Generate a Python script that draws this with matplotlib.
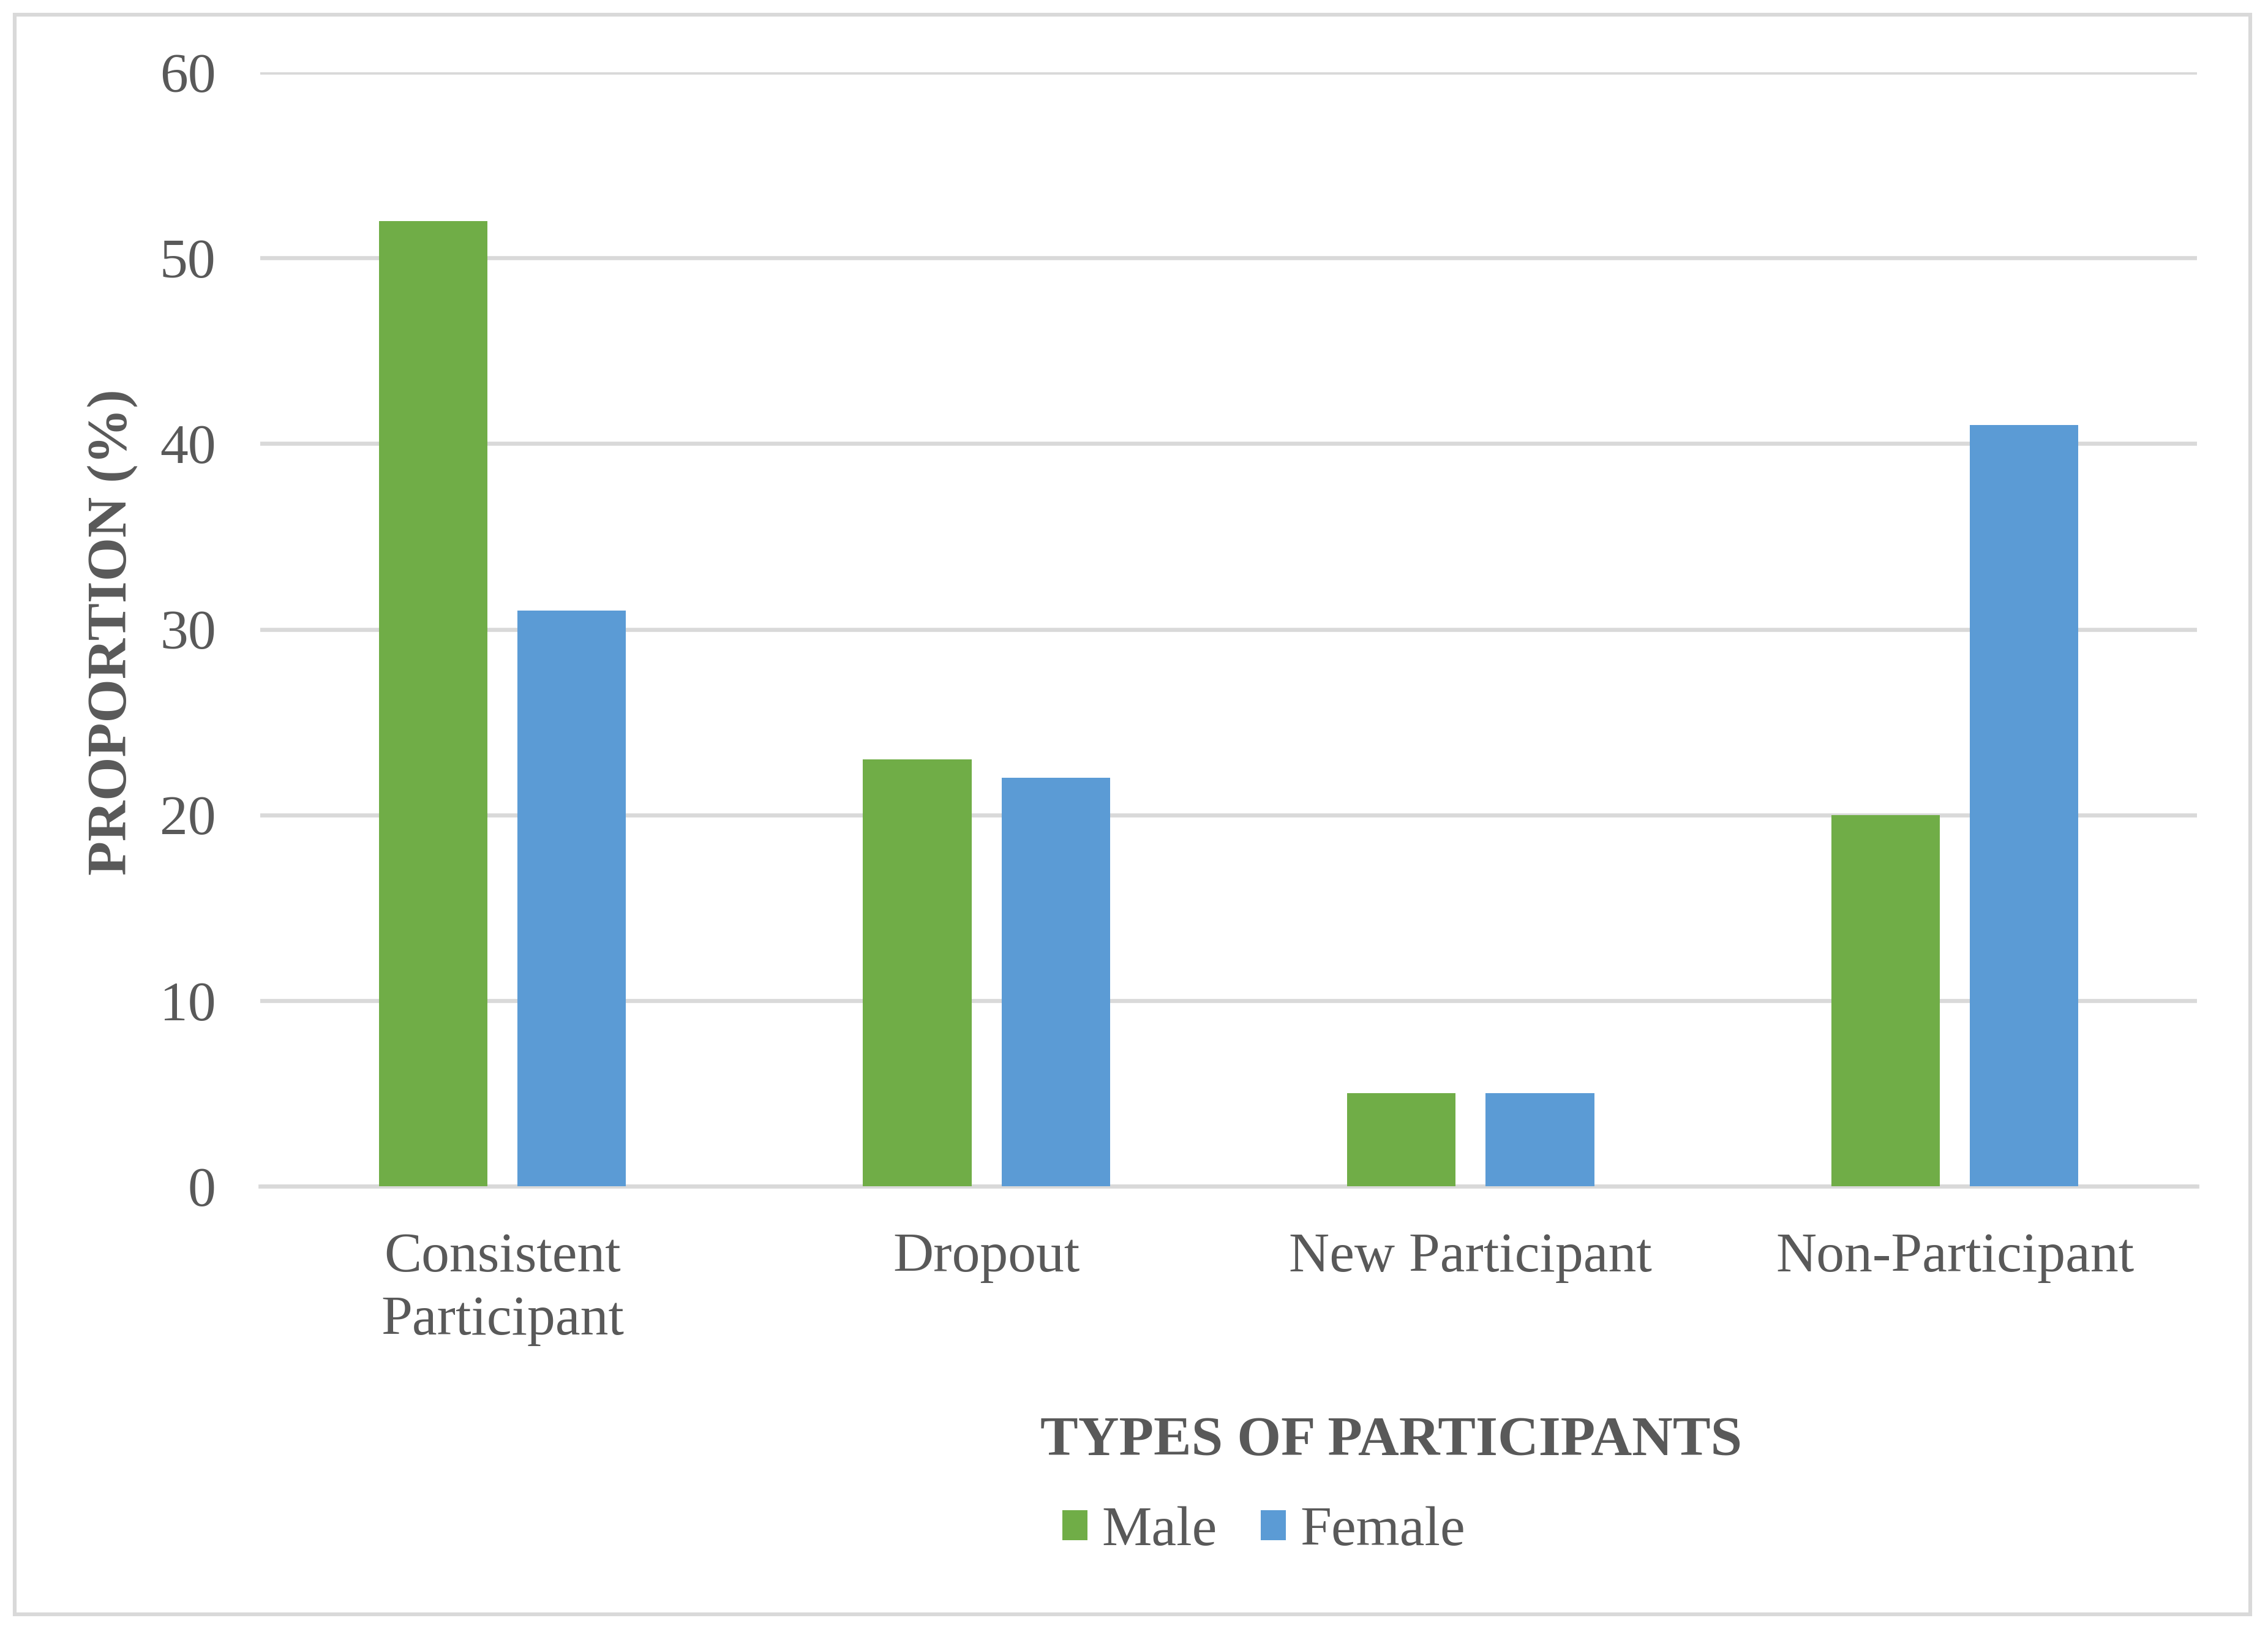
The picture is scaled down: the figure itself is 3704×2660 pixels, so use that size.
import numpy as np
import matplotlib
matplotlib.use("Agg")
import matplotlib.pyplot as plt
from matplotlib.patches import Rectangle

categories = ["Consistent\nParticipant", "Dropout", "New Participant", "Non-Participant"]
male = [52, 23, 5, 20]
female = [31, 22, 5, 41]
yticks = [0, 10, 20, 30, 40, 50, 60]

GREEN = "#70AD47"
BLUE = "#5B9BD5"
TEXT = "#595959"
GRID = "#D9D9D9"

plt.rcParams["font.family"] = ["Liberation Serif", "DejaVu Serif"]

fig = plt.figure(figsize=(18.52, 13.3), dpi=200)
ax = fig.add_axes([0.1147, 0.2718, 0.854, 0.6838])

x = np.arange(len(categories))
width = 0.224
offset = 0.143
ax.bar(x - offset, male, width, color=GREEN, label="Male", zorder=3)
ax.bar(x + offset, female, width, color=BLUE, label="Female", zorder=3)

ax.set_xlim(-0.5, len(categories) - 0.5)
ax.set_ylim(0, 60)
ax.set_yticks(yticks)
ax.set_xticks(x)
ax.set_xticklabels(categories, linespacing=1.33)
ax.tick_params(axis="both", length=0, labelsize=33, labelcolor=TEXT)
ax.tick_params(axis="x", pad=27)
ax.tick_params(axis="y", pad=26)
ax.yaxis.grid(True, color=GRID, linewidth=2.4, zorder=0)
ax.set_axisbelow(True)
for s in ax.spines.values():
    s.set_visible(False)
ax.axhline(0, color=GRID, linewidth=2.4, zorder=2, clip_on=False)

fig.text(184 / 3704, 0.612, "PROPORTION (%)", rotation=90, ha="center", va="center",
         fontsize=33, fontweight="bold", color=TEXT)
fig.text(0.6134, 0.1150, "TYPES OF PARTICIPANTS", ha="center", va="center",
         fontsize=33.3, fontweight="bold", color=TEXT)

leg = fig.legend(loc="center", bbox_to_anchor=(2064 / 3704, 0.0598), ncol=2, frameon=False,
                 fontsize=33, handlelength=0.45, handleheight=0.45, handletextpad=0.26,
                 columnspacing=0.77, borderaxespad=0)
for t in leg.get_texts():
    t.set_color(TEXT)

fig.patches.append(Rectangle((24 / 3704, 24 / 2660), (3675 - 24) / 3704, (2636 - 24) / 2660,
                             transform=fig.transFigure, fill=False, edgecolor=GRID,
                             linewidth=2.2, zorder=0))

fig.savefig("out.png", dpi=200, facecolor="white")
